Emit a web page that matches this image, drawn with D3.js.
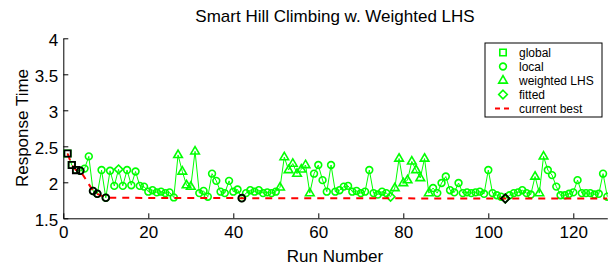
<!DOCTYPE html>
<html>
<head>
<meta charset="utf-8">
<script src="https://cdn.jsdelivr.net/npm/d3@7"></script>
<style>
  body { margin: 0; background: #fff; }
  svg { display: block; font-family: Arial, "Liberation Sans", Helvetica, sans-serif; }
</style>
</head>
<body>
<div id="chart"></div>
<script>
// response time per run (runs 1..128)
var responseTime = [
    2.40, 2.24, 2.17, 2.16, 2.19, 2.36, 1.88, 1.84, 2.17, 1.785,
    2.16, 1.95, 2.18, 1.95, 2.17, 1.96, 2.15, 1.95, 1.94, 1.87,
    1.89, 1.86, 1.87, 1.85, 1.86, 1.79, 2.38, 2.15, 1.96, 1.94,
    2.43, 1.85, 1.88, 1.80, 2.12, 2.02, 1.87, 1.85, 2.02, 1.87,
    1.90, 1.78, 1.85, 1.89, 1.87, 1.89, 1.85, 1.86, 1.85, 1.87,
    1.93, 2.35, 2.17, 2.26, 2.12, 2.18, 2.24, 1.85, 2.12, 2.24,
    2.03, 1.87, 2.24, 1.87, 1.89, 1.94, 1.95, 1.87, 1.88, 1.85,
    1.87, 2.17, 1.85, 1.83, 1.87, 1.85, 1.80, 1.92, 2.33, 1.99,
    2.03, 2.29, 2.17, 2.06, 2.33, 1.85, 1.92, 1.85, 1.99, 2.08,
    1.89, 1.86, 1.99, 1.85, 1.86, 1.85, 1.86, 1.87, 1.84, 2.17,
    1.85, 1.82, 1.80, 1.775, 1.82, 1.85, 1.86, 1.89, 1.85, 1.83,
    2.08, 1.85, 2.36, 2.17, 2.10, 1.94, 1.82, 1.82, 1.84, 1.86,
    2.03, 1.85, 1.85, 1.85, 1.83, 1.84, 2.12, 1.80
];

// how each run was chosen: G = global, L = local, W = weighted LHS, F = fitted
var runType = (
    "GGGLLLLLLL" + "LLFLLLLLLL" + "LLLLLLWWWW" + "WLLLLLLLLL" +
    "LLLLLLLLLL" + "WWWWWWWWLL" + "LLLLLLLLLL" + "LLLLLLFWWW" +
    "WWWWWWLLLL" + "LLLLLLLLLL" + "LLLFLLLLLL" + "WWWLLLLLLL" +
    "LLLLLLLL"
).split("");

// runs that improved the current best (black outline)
var bestRuns = [1, 2, 3, 4, 7, 8, 10, 42, 104];

var xTicks = [0, 20, 40, 60, 80, 100, 120];
var yTicks = [1.5, 2, 2.5, 3, 3.5, 4];

var legendItems = [
    {type: "G", label: "global"},
    {type: "L", label: "local"},
    {type: "W", label: "weighted LHS"},
    {type: "F", label: "fitted"},
    {type: "best", label: "current best"}
];

var width = 608, height = 266;
var green = "#00ff00";

var runs = responseTime.map(function(v, i) {
    return {run: i + 1, value: v, type: runType[i]};
});

var x = d3.scaleLinear().domain([0, 128]).range([63.3, 607.3]);
var y = d3.scaleLinear().domain([1.5, 4]).range([218.3, 38.3]);

// matlab style marker outlines
function markerPath(type) {
    if (type === "G") return "M-3.2,-3.2H3.2V3.2H-3.2Z";
    if (type === "W") return "M0,-4.8L4.3,2.6H-4.3Z";
    if (type === "F") return "M0,-4.3L4.3,0L0,4.3L-4.3,0Z";
    return "M3.4,0A3.4,3.4 0 1,1 -3.4,0A3.4,3.4 0 1,1 3.4,0Z";
}

var svg = d3.select("#chart").append("svg")
    .attr("width", width)
    .attr("height", height);

// axes (box off, ticks inside)
var xAxis = svg.append("g")
    .attr("transform", "translate(0," + y(1.5) + ")")
    .call(d3.axisBottom(x).tickValues(xTicks).tickSizeInner(-5).tickSizeOuter(0).tickPadding(8));
var yAxis = svg.append("g")
    .attr("transform", "translate(" + x(0) + ",0)")
    .call(d3.axisLeft(y).tickValues(yTicks).tickSizeInner(-5).tickSizeOuter(0).tickPadding(5)
        .tickFormat(d3.format("")));

[xAxis, yAxis].forEach(function(a) {
    a.select(".domain").attr("stroke", "#000").attr("stroke-width", 1);
    a.selectAll(".tick line").attr("stroke", "#000");
    a.selectAll(".tick text").attr("fill", "#000").attr("font-size", 17);
});
yAxis.selectAll(".tick text").attr("dy", "0.45em");

// green line through all runs
var line = d3.line().x(d => x(d.run)).y(d => y(d.value));
svg.append("path")
    .datum(runs)
    .attr("fill", "none")
    .attr("stroke", green)
    .attr("stroke-width", 1)
    .attr("d", line);

svg.append("g")
    .selectAll("path")
    .data(runs)
    .join("path")
    .attr("transform", d => "translate(" + x(d.run) + "," + y(d.value) + ")")
    .attr("d", d => markerPath(d.type))
    .attr("fill", "none")
    .attr("stroke", green)
    .attr("stroke-width", 1.6);

// current best dashed line
var bestPoints = bestRuns.map(function(r) { return runs[r - 1]; });
bestPoints.push({run: 128, value: bestPoints[bestPoints.length - 1].value});
svg.append("path")
    .datum(bestPoints)
    .attr("fill", "none")
    .attr("stroke", "#ff0000")
    .attr("stroke-width", 2)
    .attr("stroke-dasharray", "7,6")
    .attr("d", line);

svg.append("g")
    .selectAll("path")
    .data(bestRuns.map(function(r) { return runs[r - 1]; }))
    .join("path")
    .attr("transform", d => "translate(" + x(d.run) + "," + y(d.value) + ")")
    .attr("d", d => markerPath(d.type))
    .attr("fill", "none")
    .attr("stroke", "#000")
    .attr("stroke-width", 1.8);

// title and labels
svg.append("text")
    .attr("x", 335).attr("y", 22)
    .attr("text-anchor", "middle")
    .attr("font-size", 17)
    .text("Smart Hill Climbing w. Weighted LHS");

svg.append("text")
    .attr("x", 335).attr("y", 262)
    .attr("text-anchor", "middle")
    .attr("font-size", 17)
    .text("Run Number");

svg.append("text")
    .attr("transform", "translate(28,128) rotate(-90)")
    .attr("text-anchor", "middle")
    .attr("font-size", 17)
    .text("Response Time");

// legend
var legend = svg.append("g").attr("transform", "translate(485,43)");
legend.append("rect")
    .attr("width", 117).attr("height", 74)
    .attr("fill", "#fff")
    .attr("stroke", "#000");

var entry = legend.selectAll("g")
    .data(legendItems)
    .join("g")
    .attr("transform", (d, i) => "translate(0," + (9.5 + i * 14) + ")");

entry.filter(d => d.type !== "best").append("path")
    .attr("transform", "translate(18,0)")
    .attr("d", d => markerPath(d.type))
    .attr("fill", "none")
    .attr("stroke", green)
    .attr("stroke-width", 1.6);

entry.filter(d => d.type === "best").append("line")
    .attr("x1", 10).attr("x2", 27)
    .attr("stroke", "#ff0000")
    .attr("stroke-width", 2)
    .attr("stroke-dasharray", "5,4");

entry.append("text")
    .attr("x", 34).attr("dy", "0.35em")
    .attr("font-size", 12)
    .text(d => d.label);
</script>
</body>
</html>
